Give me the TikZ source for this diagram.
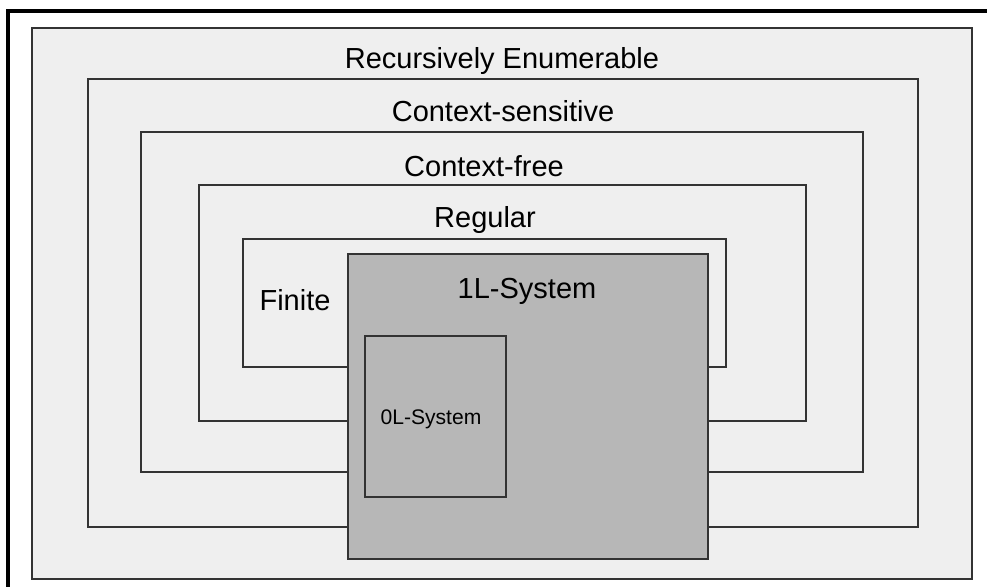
\documentclass[tikz,border=0pt]{standalone}
\usepackage{fontspec}
\setmainfont{Liberation Sans}
\usepackage{xcolor}
\usepackage{tikz}
\usetikzlibrary{positioning}

\definecolor{panelgray}{HTML}{EFEFEF}
\definecolor{sysgray}{HTML}{B7B7B7}
\definecolor{edgegray}{HTML}{333333}

\begin{document}
\begin{tikzpicture}[x=0.02cm,y=-0.02cm,
      cls/.style={draw=edgegray,line width=1.1pt},
      sys/.style={draw=edgegray,line width=1.1pt,fill=sysgray},
      lab/.style={anchor=base,inner sep=0pt,font=\fontsize{16.5pt}{20pt}\selectfont},
      small/.style={anchor=base,inner sep=0pt,font=\fontsize{12pt}{14pt}\selectfont}]
    \useasboundingbox (0,0) rectangle (987,586);
    \fill[white] (0,0) rectangle (987,586);
    % screenshot frame, top and left only
    \draw[black,line width=2pt] (8,600) -- (8,11) -- (1000,11);
    \filldraw[cls,fill=panelgray] (32,28) rectangle (972,579);
    % nested language classes
    \foreach \xa/\ya/\xb/\yb in {88/79/918/527,141/132/863/472,199/185/806/421,243/239/726/367} {
      \draw[cls] (\xa,\ya) rectangle (\xb,\yb);
    }
    \node[lab] (re) at (502,68) {Recursively Enumerable};
    \node[lab] (cs) at (503,121) {Context-sensitive};
    \node[lab] (cf) at (484,176) {Context-free};
    \node[lab] (reg) at (485,227) {Regular};
    \node[lab] (fin) at (295,310) {Finite};
    % L-systems on top
    \draw[sys] (348,254) rectangle (708,559);
    \draw[cls] (365,336) rectangle (506,497);
    \node[lab] (one) at (527,298) {1L-System};
    \node[small] (zero) at (431,424) {0L-System};
  \end{tikzpicture}
\end{document}
